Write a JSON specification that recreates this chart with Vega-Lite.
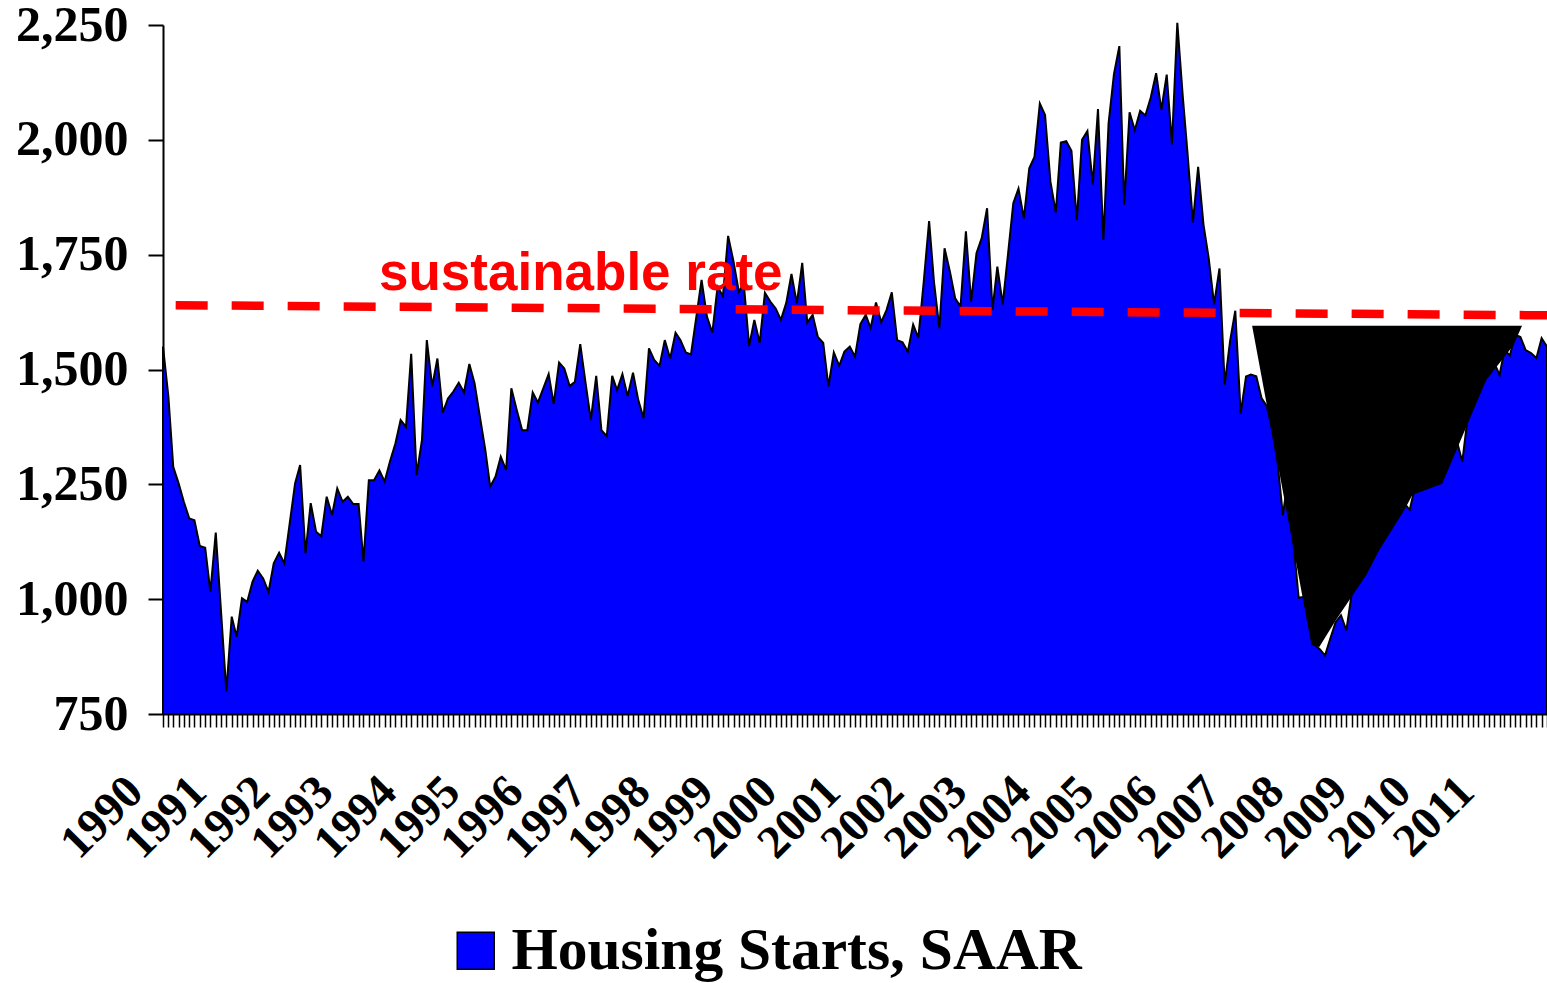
{
  "$schema": "https://vega.github.io/schema/vega-lite/v6.json",
  "width": 1384,
  "height": 689,
  "autosize": "none",
  "padding": {"left": 163, "top": 25, "right": 0, "bottom": 269},
  "background": "white",
  "config": {"view": {"stroke": null}},
  "datasets": {
    "starts": [
      {"date":"1990-01-01","value":1550},{"date":"1990-02-01","value":1441},{"date":"1990-03-01","value":1288},{"date":"1990-04-01","value":1252},{"date":"1990-05-01","value":1212},{"date":"1990-06-01","value":1176},{"date":"1990-07-01","value":1172},{"date":"1990-08-01","value":1116},{"date":"1990-09-01","value":1112},{"date":"1990-10-01","value":1016},{"date":"1990-11-01","value":1145},{"date":"1990-12-01","value":975},
      {"date":"1991-01-01","value":799},{"date":"1991-02-01","value":962},{"date":"1991-03-01","value":918},{"date":"1991-04-01","value":1002},{"date":"1991-05-01","value":994},{"date":"1991-06-01","value":1038},{"date":"1991-07-01","value":1062},{"date":"1991-08-01","value":1045},{"date":"1991-09-01","value":1016},{"date":"1991-10-01","value":1078},{"date":"1991-11-01","value":1101},{"date":"1991-12-01","value":1078},
      {"date":"1992-01-01","value":1165},{"date":"1992-02-01","value":1252},{"date":"1992-03-01","value":1292},{"date":"1992-04-01","value":1100},{"date":"1992-05-01","value":1209},{"date":"1992-06-01","value":1147},{"date":"1992-07-01","value":1137},{"date":"1992-08-01","value":1223},{"date":"1992-09-01","value":1183},{"date":"1992-10-01","value":1241},{"date":"1992-11-01","value":1212},{"date":"1992-12-01","value":1223},
      {"date":"1993-01-01","value":1207},{"date":"1993-02-01","value":1207},{"date":"1993-03-01","value":1082},{"date":"1993-04-01","value":1259},{"date":"1993-05-01","value":1259},{"date":"1993-06-01","value":1280},{"date":"1993-07-01","value":1256},{"date":"1993-08-01","value":1300},{"date":"1993-09-01","value":1339},{"date":"1993-10-01","value":1390},{"date":"1993-11-01","value":1375},{"date":"1993-12-01","value":1534},
      {"date":"1994-01-01","value":1270},{"date":"1994-02-01","value":1346},{"date":"1994-03-01","value":1564},{"date":"1994-04-01","value":1463},{"date":"1994-05-01","value":1524},{"date":"1994-06-01","value":1406},{"date":"1994-07-01","value":1437},{"date":"1994-08-01","value":1452},{"date":"1994-09-01","value":1471},{"date":"1994-10-01","value":1450},{"date":"1994-11-01","value":1512},{"date":"1994-12-01","value":1470},
      {"date":"1995-01-01","value":1397},{"date":"1995-02-01","value":1325},{"date":"1995-03-01","value":1245},{"date":"1995-04-01","value":1267},{"date":"1995-05-01","value":1310},{"date":"1995-06-01","value":1281},{"date":"1995-07-01","value":1459},{"date":"1995-08-01","value":1412},{"date":"1995-09-01","value":1368},{"date":"1995-10-01","value":1368},{"date":"1995-11-01","value":1450},{"date":"1995-12-01","value":1428},
      {"date":"1996-01-01","value":1459},{"date":"1996-02-01","value":1490},{"date":"1996-03-01","value":1425},{"date":"1996-04-01","value":1515},{"date":"1996-05-01","value":1502},{"date":"1996-06-01","value":1464},{"date":"1996-07-01","value":1473},{"date":"1996-08-01","value":1555},{"date":"1996-09-01","value":1470},{"date":"1996-10-01","value":1390},{"date":"1996-11-01","value":1486},{"date":"1996-12-01","value":1368},
      {"date":"1997-01-01","value":1355},{"date":"1997-02-01","value":1486},{"date":"1997-03-01","value":1455},{"date":"1997-04-01","value":1490},{"date":"1997-05-01","value":1442},{"date":"1997-06-01","value":1493},{"date":"1997-07-01","value":1434},{"date":"1997-08-01","value":1394},{"date":"1997-09-01","value":1546},{"date":"1997-10-01","value":1521},{"date":"1997-11-01","value":1508},{"date":"1997-12-01","value":1564},
      {"date":"1998-01-01","value":1524},{"date":"1998-02-01","value":1580},{"date":"1998-03-01","value":1564},{"date":"1998-04-01","value":1537},{"date":"1998-05-01","value":1533},{"date":"1998-06-01","value":1615},{"date":"1998-07-01","value":1695},{"date":"1998-08-01","value":1615},{"date":"1998-09-01","value":1580},{"date":"1998-10-01","value":1680},{"date":"1998-11-01","value":1660},{"date":"1998-12-01","value":1791},
      {"date":"1999-01-01","value":1735},{"date":"1999-02-01","value":1669},{"date":"1999-03-01","value":1688},{"date":"1999-04-01","value":1551},{"date":"1999-05-01","value":1608},{"date":"1999-06-01","value":1558},{"date":"1999-07-01","value":1667},{"date":"1999-08-01","value":1648},{"date":"1999-09-01","value":1633},{"date":"1999-10-01","value":1608},{"date":"1999-11-01","value":1645},{"date":"1999-12-01","value":1708},
      {"date":"2000-01-01","value":1644},{"date":"2000-02-01","value":1732},{"date":"2000-03-01","value":1602},{"date":"2000-04-01","value":1619},{"date":"2000-05-01","value":1571},{"date":"2000-06-01","value":1558},{"date":"2000-07-01","value":1463},{"date":"2000-08-01","value":1537},{"date":"2000-09-01","value":1508},{"date":"2000-10-01","value":1539},{"date":"2000-11-01","value":1550},{"date":"2000-12-01","value":1528},
      {"date":"2001-01-01","value":1599},{"date":"2001-02-01","value":1619},{"date":"2001-03-01","value":1590},{"date":"2001-04-01","value":1646},{"date":"2001-05-01","value":1603},{"date":"2001-06-01","value":1630},{"date":"2001-07-01","value":1668},{"date":"2001-08-01","value":1564},{"date":"2001-09-01","value":1559},{"date":"2001-10-01","value":1539},{"date":"2001-11-01","value":1598},{"date":"2001-12-01","value":1569},
      {"date":"2002-01-01","value":1691},{"date":"2002-02-01","value":1823},{"date":"2002-03-01","value":1691},{"date":"2002-04-01","value":1590},{"date":"2002-05-01","value":1764},{"date":"2002-06-01","value":1713},{"date":"2002-07-01","value":1655},{"date":"2002-08-01","value":1637},{"date":"2002-09-01","value":1801},{"date":"2002-10-01","value":1648},{"date":"2002-11-01","value":1753},{"date":"2002-12-01","value":1786},
      {"date":"2003-01-01","value":1851},{"date":"2003-02-01","value":1630},{"date":"2003-03-01","value":1724},{"date":"2003-04-01","value":1642},{"date":"2003-05-01","value":1749},{"date":"2003-06-01","value":1862},{"date":"2003-07-01","value":1894},{"date":"2003-08-01","value":1829},{"date":"2003-09-01","value":1938},{"date":"2003-10-01","value":1963},{"date":"2003-11-01","value":2079},{"date":"2003-12-01","value":2054},
      {"date":"2004-01-01","value":1909},{"date":"2004-02-01","value":1842},{"date":"2004-03-01","value":1994},{"date":"2004-04-01","value":1997},{"date":"2004-05-01","value":1976},{"date":"2004-06-01","value":1825},{"date":"2004-07-01","value":2000},{"date":"2004-08-01","value":2019},{"date":"2004-09-01","value":1903},{"date":"2004-10-01","value":2067},{"date":"2004-11-01","value":1782},{"date":"2004-12-01","value":2036},
      {"date":"2005-01-01","value":2143},{"date":"2005-02-01","value":2204},{"date":"2005-03-01","value":1859},{"date":"2005-04-01","value":2060},{"date":"2005-05-01","value":2021},{"date":"2005-06-01","value":2063},{"date":"2005-07-01","value":2053},{"date":"2005-08-01","value":2092},{"date":"2005-09-01","value":2145},{"date":"2005-10-01","value":2065},{"date":"2005-11-01","value":2142},{"date":"2005-12-01","value":1990},
      {"date":"2006-01-01","value":2255},{"date":"2006-02-01","value":2097},{"date":"2006-03-01","value":1970},{"date":"2006-04-01","value":1820},{"date":"2006-05-01","value":1941},{"date":"2006-06-01","value":1815},{"date":"2006-07-01","value":1742},{"date":"2006-08-01","value":1642},{"date":"2006-09-01","value":1720},{"date":"2006-10-01","value":1467},{"date":"2006-11-01","value":1562},{"date":"2006-12-01","value":1628},
      {"date":"2007-01-01","value":1404},{"date":"2007-02-01","value":1485},{"date":"2007-03-01","value":1489},{"date":"2007-04-01","value":1485},{"date":"2007-05-01","value":1438},{"date":"2007-06-01","value":1420},{"date":"2007-07-01","value":1370},{"date":"2007-08-01","value":1300},{"date":"2007-09-01","value":1183},{"date":"2007-10-01","value":1260},{"date":"2007-11-01","value":1125},{"date":"2007-12-01","value":1003},
      {"date":"2008-01-01","value":1005},{"date":"2008-02-01","value":940},{"date":"2008-03-01","value":901},{"date":"2008-04-01","value":891},{"date":"2008-05-01","value":877},{"date":"2008-06-01","value":915},{"date":"2008-07-01","value":950},{"date":"2008-08-01","value":965},{"date":"2008-09-01","value":932},{"date":"2008-10-01","value":1010},{"date":"2008-11-01","value":1035},{"date":"2008-12-01","value":1055},
      {"date":"2009-01-01","value":1072},{"date":"2009-02-01","value":1094},{"date":"2009-03-01","value":1116},{"date":"2009-04-01","value":1135},{"date":"2009-05-01","value":1153},{"date":"2009-06-01","value":1172},{"date":"2009-07-01","value":1190},{"date":"2009-08-01","value":1209},{"date":"2009-09-01","value":1194},{"date":"2009-10-01","value":1244},{"date":"2009-11-01","value":1248},{"date":"2009-12-01","value":1252},
      {"date":"2010-01-01","value":1257},{"date":"2010-02-01","value":1261},{"date":"2010-03-01","value":1265},{"date":"2010-04-01","value":1288},{"date":"2010-05-01","value":1315},{"date":"2010-06-01","value":1342},{"date":"2010-07-01","value":1299},{"date":"2010-08-01","value":1396},{"date":"2010-09-01","value":1424},{"date":"2010-10-01","value":1451},{"date":"2010-11-01","value":1478},{"date":"2010-12-01","value":1499},
      {"date":"2011-01-01","value":1514},{"date":"2011-02-01","value":1488},{"date":"2011-03-01","value":1543},{"date":"2011-04-01","value":1530},{"date":"2011-05-01","value":1576},{"date":"2011-06-01","value":1571},{"date":"2011-07-01","value":1542},{"date":"2011-08-01","value":1536},{"date":"2011-09-01","value":1525},{"date":"2011-10-01","value":1568},{"date":"2011-11-01","value":1550}
    ],
    "triangle": [
      {"date":"2007-03-08","value":1595,"top":1595},
      {"date":"2008-02-13","value":900,"top":1595},
      {"date":"2008-03-29","value":896,"top":1595},
      {"date":"2008-07-04","value":955,"top":1595},
      {"date":"2008-10-01","value":1005,"top":1595},
      {"date":"2008-12-26","value":1053,"top":1595},
      {"date":"2009-03-10","value":1107,"top":1595},
      {"date":"2009-08-01","value":1194,"top":1595},
      {"date":"2009-09-16","value":1227,"top":1595},
      {"date":"2010-03-07","value":1251,"top":1595},
      {"date":"2010-07-22","value":1373,"top":1595},
      {"date":"2010-11-16","value":1477,"top":1595},
      {"date":"2011-02-15","value":1521,"top":1595},
      {"date":"2011-04-22","value":1553,"top":1595},
      {"date":"2011-06-10","value":1595,"top":1595}
    ],
    "sustainable": [
      {"date":"1990-03-15","value":1640},
      {"date":"2011-11-01","value":1618}
    ],
    "note": [
      {"date":"1996-08-04","value":1673,"text":"sustainable rate"}
    ]
  },
  "encoding": {
    "x": {
      "field": "date",
      "type": "temporal",
      "title": null,
      "scale": {
        "type": "utc",
        "nice": false,
        "domain": [
          {"year": 1990, "month": 1, "date": 1, "utc": true},
          {"year": 2011, "month": 11, "date": 1, "utc": true}
        ]
      },
      "axis": {
        "title": null,
        "grid": false,
        "tickCount": {"interval": "month", "step": 1},
        "tickSize": 13,
        "tickWidth": 1.5,
        "tickColor": "black",
        "domainColor": "black",
        "domainWidth": 2,
        "labelExpr": "utcmonth(datum.value) == 0 ? utcFormat(datum.value, '%Y') : ''",
        "labelAngle": -45,
        "labelAlign": "right",
        "labelBaseline": "middle",
        "labelFont": "Liberation Serif",
        "labelFontWeight": "bold",
        "labelFontSize": 47,
        "labelColor": "black",
        "labelPadding": 57,
        "labelOffset": -28,
        "labelOverlap": false,
        "labelFlush": false,
        "labelBound": false
      }
    },
    "y": {
      "field": "value",
      "type": "quantitative",
      "title": null,
      "scale": {"domain": [750, 2250], "nice": false, "zero": false},
      "axis": {
        "title": null,
        "grid": false,
        "values": [750, 1000, 1250, 1500, 1750, 2000, 2250],
        "labelExpr": "format(datum.value, ',.0f')",
        "tickSize": 15,
        "tickWidth": 2,
        "tickColor": "black",
        "domainColor": "black",
        "domainWidth": 2,
        "labelFont": "Liberation Serif",
        "labelFontWeight": "bold",
        "labelFontSize": 50,
        "labelColor": "black",
        "labelPadding": 20,
        "labelFlush": false
      }
    }
  },
  "layer": [
    {
      "data": {"name": "starts"},
      "mark": {"type": "area", "stroke": "black", "strokeWidth": 2, "strokeJoin": "miter"},
      "encoding": {
        "y2": {"datum": 750},
        "color": {
          "datum": "Housing Starts, SAAR",
          "scale": {"range": ["#0000FF"]},
          "legend": {
            "orient": "none",
            "legendX": 283,
            "legendY": 896,
            "title": null,
            "padding": 0,
            "symbolType": "square",
            "symbolSize": 1369,
            "symbolStrokeColor": "black",
            "symbolStrokeWidth": 1.5,
            "labelFont": "Liberation Serif",
            "labelFontWeight": "bold",
            "labelFontSize": 59.5,
            "labelColor": "black",
            "labelOffset": 6,
            "labelLimit": 0
          }
        }
      }
    },
    {
      "data": {"name": "triangle"},
      "mark": {"type": "area", "color": "black", "fill": "black"},
      "encoding": {
        "y2": {"field": "top"}
      }
    },
    {
      "data": {"name": "sustainable"},
      "mark": {"type": "line", "color": "#FF0000", "strokeWidth": 8.5, "strokeDash": [32, 24], "strokeCap": "butt"},
      "encoding": {}
    },
    {
      "data": {"name": "note"},
      "mark": {"type": "text", "font": "Liberation Sans", "fontWeight": "bold", "fontSize": 53, "color": "#FF0000", "align": "center", "baseline": "alphabetic"},
      "encoding": {
        "text": {"field": "text"}
      }
    }
  ]
}
